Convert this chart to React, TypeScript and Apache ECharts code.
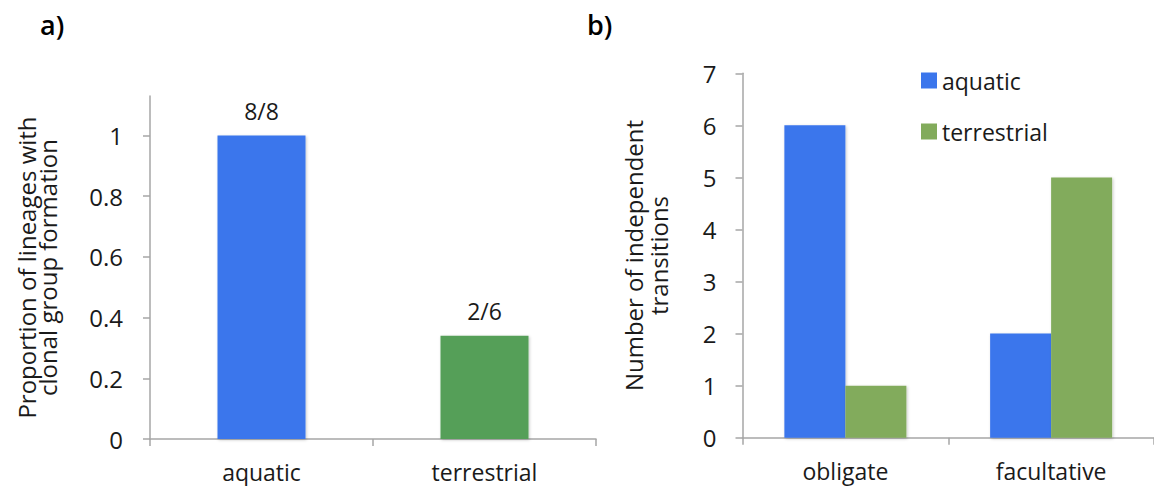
import React, { useEffect, useRef } from "react";
import * as echarts from "echarts";

// Panel a
const habitatCategories = ["aquatic", "terrestrial"];
const proportionValues = [1.0, 0.34];
const proportionLabels = ["8/8", "2/6"];
const proportionTicks = [0, 0.2, 0.4, 0.6, 0.8, 1];
const proportionAxisMax = 1.13;

// Panel b
const transitionCategories = ["obligate", "facultative"];
const aquaticTransitions = [6, 2];
const terrestrialTransitions = [1, 5];
const transitionTicks = [0, 1, 2, 3, 4, 5, 6, 7];

const FONT = "'Open Sans', 'Noto Sans', sans-serif";
const AXIS_GRAY = "#a6a6a6";
const BLUE = "#3b76ec";
const GREEN_A = "#559f58";
const GREEN_B = "#82ab5b";
const TEXT = "#1a1a1a";

export default function App() {
  const ref = useRef<HTMLDivElement>(null);
  useEffect(() => {
    if (!ref.current) return;
    const chart = echarts.init(ref.current, null, { renderer: "svg" });
    const shadow = {
      shadowColor: "rgba(0,0,0,0.22)",
      shadowBlur: 3,
      shadowOffsetX: 1,
      shadowOffsetY: 1,
    };
    const axisLine = { show: true, lineStyle: { color: AXIS_GRAY, width: 1.5 } };
    chart.setOption({
      animation: false,
      textStyle: { fontFamily: FONT },
      graphic: [
        {
          type: "text",
          left: 40,
          top: 11,
          style: { text: "a)", font: `600 27px ${FONT}`, fill: "#000" },
        },
        {
          type: "text",
          left: 587,
          top: 11,
          style: { text: "b)", font: `600 27px ${FONT}`, fill: "#000" },
        },
      ],
      legend: {
        data: ["aquatic", "terrestrial"],
        orient: "vertical",
        left: 916,
        top: 64,
        icon: "rect",
        itemWidth: 16,
        itemHeight: 16,
        itemGap: 28,
        textStyle: { fontSize: 23, color: TEXT, fontFamily: FONT },
      },
      grid: [
        { left: 150, top: 96, width: 446, height: 343 },
        { left: 742.5, top: 73.3, width: 420, height: 364.4 },
      ],
      xAxis: [
        {
          type: "category",
          gridIndex: 0,
          data: habitatCategories,
          axisLine,
          axisTick: { show: true, length: 7, lineStyle: { color: AXIS_GRAY, width: 1.5 } },
          axisLabel: { fontSize: 23, color: TEXT, margin: 21 },
        },
        {
          type: "category",
          gridIndex: 1,
          data: transitionCategories,
          axisLine,
          axisTick: { show: true, length: 7, lineStyle: { color: AXIS_GRAY, width: 1.5 } },
          axisLabel: { fontSize: 23, color: TEXT, margin: 22 },
        },
      ],
      yAxis: [
        {
          type: "value",
          gridIndex: 0,
          min: 0,
          max: proportionAxisMax,
          interval: 0.2,
          splitLine: { show: false },
          axisLine,
          axisTick: {
            show: true,
            length: 7,
            customValues: proportionTicks,
            lineStyle: { color: AXIS_GRAY, width: 1.5 },
          },
          axisLabel: {
            fontSize: 24,
            color: TEXT,
            margin: 27,
            customValues: proportionTicks,
          },
          name: "Proportion of lineages with\nclonal group formation",
          nameLocation: "middle",
          nameGap: 92,
          nameTextStyle: { fontSize: 24, color: TEXT, lineHeight: 21 },
        },
        {
          type: "value",
          gridIndex: 1,
          min: 0,
          max: 7,
          interval: 1,
          splitLine: { show: false },
          axisLine,
          axisTick: {
            show: true,
            length: 7,
            customValues: transitionTicks,
            lineStyle: { color: AXIS_GRAY, width: 1.5 },
          },
          axisLabel: {
            fontSize: 24,
            color: TEXT,
            margin: 26,
            customValues: transitionTicks,
          },
          name: "Number of independent\ntransitions",
          nameLocation: "middle",
          nameGap: 72,
          nameTextStyle: { fontSize: 24, color: TEXT, lineHeight: 25 },
        },
      ],
      series: [
        {
          type: "bar",
          name: "proportion",
          xAxisIndex: 0,
          yAxisIndex: 0,
          barWidth: 88,
          data: proportionValues.map((v, i) => ({
            value: v,
            itemStyle: { color: i === 0 ? BLUE : GREEN_A, ...shadow },
          })),
          label: {
            show: true,
            position: "top",
            distance: 13,
            fontSize: 23,
            color: TEXT,
            formatter: (p: any) => proportionLabels[p.dataIndex],
          },
        },
        {
          type: "bar",
          name: "aquatic",
          xAxisIndex: 1,
          yAxisIndex: 1,
          barWidth: 61,
          barGap: "0%",
          itemStyle: { color: BLUE, ...shadow },
          data: aquaticTransitions,
        },
        {
          type: "bar",
          name: "terrestrial",
          xAxisIndex: 1,
          yAxisIndex: 1,
          barWidth: 61,
          barGap: "0%",
          itemStyle: { color: GREEN_B, ...shadow },
          data: terrestrialTransitions,
        },
      ],
    });
    return () => chart.dispose();
  }, []);
  return (
    <div
      ref={ref}
      style={{ position: "fixed", left: 0, top: 0, width: 1154, height: 486, background: "#fff" }}
    />
  );
}
